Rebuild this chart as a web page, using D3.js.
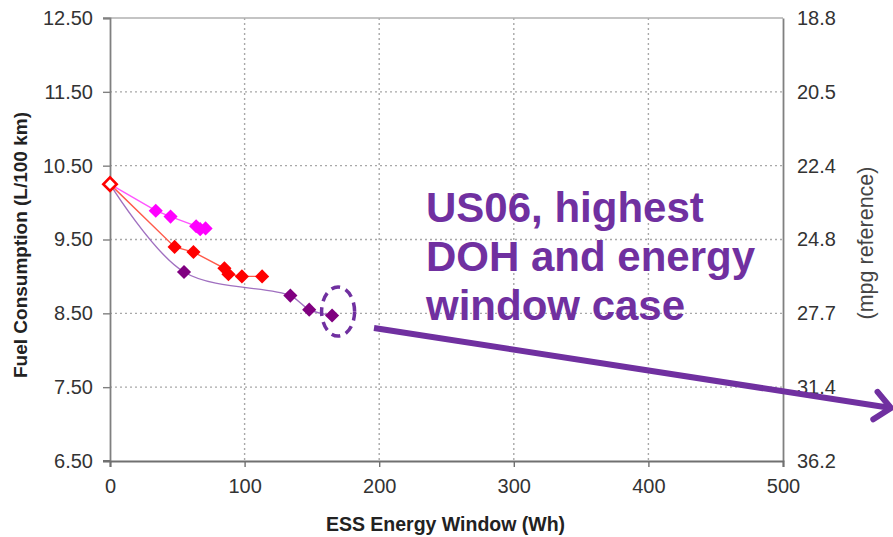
<!DOCTYPE html>
<html>
<head>
<meta charset="utf-8">
<script src="https://cdn.jsdelivr.net/npm/d3@7"></script>
<style>
  html, body { margin: 0; padding: 0; background: #fff; }
  svg { display: block; font-family: "Liberation Sans", Arial, sans-serif; }
</style>
</head>
<body>
<svg id="chart" width="893" height="537"></svg>
<script>
// Shared starting point (no ESS energy window)
const baseline = [{ wh: 0, fuel: 10.25 }];

// Series: ESS energy window (Wh) vs fuel consumption (L/100 km)
const magentaWh   = [34, 45, 64, 67, 71];
const magentaFuel = [9.89, 9.81, 9.68, 9.64, 9.65];

const redWh   = [48, 62, 85, 88, 98, 113];
const redFuel = [9.40, 9.33, 9.11, 9.03, 9.00, 9.00];

const purpleWh   = [55, 134, 148, 165];
const purpleFuel = [9.06, 8.74, 8.55, 8.47];

// Axis ticks
const xTicks = [0, 100, 200, 300, 400, 500];
const yTicks = [12.5, 11.5, 10.5, 9.5, 8.5, 7.5, 6.5];
const mpgLabels = ["18.8", "20.5", "22.4", "24.8", "27.7", "31.4", "36.2"];

const annotationLines = ["US06, highest", "DOH and energy", "window case"];

const toPts = (xs, ys) => xs.map((v, i) => ({ wh: v, fuel: ys[i] }));
const magenta = toPts(magentaWh, magentaFuel);
const red = toPts(redWh, redFuel);
const purple = toPts(purpleWh, purpleFuel);

const svg = d3.select("#chart");
const plotL = 110, plotR = 783, plotT = 18, plotB = 461;

const x = d3.scaleLinear().domain([0, 500]).range([plotL, plotR]);
const y = d3.scaleLinear().domain([6.5, 12.5]).range([plotB, plotT]);

// Gridlines (dotted)
const grid = svg.append("g");
grid.selectAll("line.h").data(yTicks.filter(d => d !== 12.5 && d !== 6.5)).join("line")
  .attr("x1", plotL).attr("x2", plotR)
  .attr("y1", d => y(d)).attr("y2", d => y(d))
  .attr("stroke", "#a8a8a8").attr("stroke-width", 1.4).attr("stroke-dasharray", "2,3");
grid.selectAll("line.v").data(xTicks.filter(d => d !== 0 && d !== 500)).join("line")
  .attr("x1", d => x(d)).attr("x2", d => x(d))
  .attr("y1", plotT).attr("y2", plotB)
  .attr("stroke", "#a8a8a8").attr("stroke-width", 1.4).attr("stroke-dasharray", "2,3");

// Top frame
svg.append("line").attr("x1", plotL - 7).attr("x2", plotR).attr("y1", plotT).attr("y2", plotT)
  .attr("stroke", "#b0b0b0").attr("stroke-width", 1.6);

// Left axis
const yAxis = svg.append("g").attr("transform", `translate(${plotL},0)`)
  .call(d3.axisLeft(y).tickValues(yTicks).tickSize(7).tickPadding(10).tickFormat(d3.format(".2f")));
yAxis.select(".domain").attr("stroke", "#808080").attr("stroke-width", 1.8);
yAxis.selectAll(".tick line").attr("stroke", "#808080").attr("stroke-width", 1.4);
yAxis.selectAll("text").attr("font-size", 20).attr("fill", "#333")
  .attr("font-family", "Liberation Sans, Arial, sans-serif");

// Right axis (mpg reference)
const yAxisR = svg.append("g").attr("transform", `translate(${plotR},0)`)
  .call(d3.axisRight(y).tickValues(yTicks).tickSize(0).tickPadding(14)
    .tickFormat((d, i) => mpgLabels[i]));
yAxisR.select(".domain").attr("stroke", "#808080").attr("stroke-width", 1.8);
yAxisR.selectAll("text").attr("font-size", 20).attr("fill", "#333")
  .attr("font-family", "Liberation Sans, Arial, sans-serif");

// Bottom axis
const xAxis = svg.append("g").attr("transform", `translate(0,${plotB})`)
  .call(d3.axisBottom(x).tickValues(xTicks).tickSize(6).tickPadding(12));
xAxis.select(".domain").attr("stroke", "#707070").attr("stroke-width", 2);
xAxis.selectAll(".tick line").attr("stroke", "#707070").attr("stroke-width", 1.4);
xAxis.selectAll("text").attr("font-size", 20).attr("fill", "#333")
  .attr("font-family", "Liberation Sans, Arial, sans-serif");
svg.append("line").attr("x1", plotL - 7).attr("x2", plotL).attr("y1", plotB).attr("y2", plotB)
  .attr("stroke", "#707070").attr("stroke-width", 2);

// Axis titles
svg.append("text")
  .attr("x", (plotL + plotR) / 2 - 1).attr("y", 531)
  .attr("text-anchor", "middle").attr("font-size", 19.5).attr("font-weight", "bold")
  .attr("fill", "#222").text("ESS Energy Window (Wh)");
svg.append("text")
  .attr("transform", "translate(27,245) rotate(-90)")
  .attr("text-anchor", "middle").attr("font-size", 19).attr("font-weight", "bold")
  .attr("fill", "#222").text("Fuel Consumption (L/100 km)");
svg.append("text")
  .attr("transform", "translate(873,243) rotate(-90)")
  .attr("text-anchor", "middle").attr("font-size", 21.5)
  .attr("fill", "#444").text("(mpg reference)");

// Series lines
const straight = d3.line().x(d => x(d.wh)).y(d => y(d.fuel));
const smooth = d3.line().x(d => x(d.wh)).y(d => y(d.fuel)).curve(d3.curveCatmullRom.alpha(0.5));

svg.append("path").datum(baseline.concat(magenta)).attr("d", straight)
  .attr("fill", "none").attr("stroke", "#ff55ff").attr("stroke-width", 1.4);
svg.append("path").datum(baseline.concat(red)).attr("d", straight)
  .attr("fill", "none").attr("stroke", "#ff5a4a").attr("stroke-width", 1.4);
svg.append("path").datum(baseline.concat(purple)).attr("d", smooth)
  .attr("fill", "none").attr("stroke", "#a070c0").attr("stroke-width", 1.4);

// Diamond markers
const diamond = d3.symbol().type(d3.symbolSquare).size(100);
function markers(data, color) {
  svg.append("g").selectAll("path").data(data).join("path")
    .attr("d", diamond)
    .attr("transform", d => `translate(${x(d.wh)},${y(d.fuel)}) rotate(45)`)
    .attr("fill", color);
}
markers(magenta, "#ff00ff");
markers(red, "#ff0000");
markers(purple, "#800080");

// Hollow starting marker
svg.append("g").selectAll("path").data(baseline).join("path")
  .attr("d", d3.symbol().type(d3.symbolSquare).size(90))
  .attr("transform", d => `translate(${x(d.wh)},${y(d.fuel)}) rotate(45)`)
  .attr("fill", "#fff").attr("stroke", "#ff0000").attr("stroke-width", 2.6);

// Callout: dashed ellipse around the last purple point
const last = purple[purple.length - 1];
svg.append("ellipse")
  .attr("cx", x(last.wh) + 6).attr("cy", y(last.fuel) - 4)
  .attr("rx", 16.5).attr("ry", 24.5)
  .attr("fill", "none").attr("stroke", "#7030a0").attr("stroke-width", 3.5)
  .attr("stroke-dasharray", "9,6");

// Callout text
const note = svg.append("text").attr("font-size", 42).attr("font-weight", "bold")
  .attr("fill", "#7030a0");
annotationLines.forEach((t, i) => {
  note.append("tspan").attr("x", 426).attr("y", 222 + i * 49).text(t);
});

// Callout arrow
const a0 = [374, 328], a1 = [891, 408];
svg.append("line").attr("x1", a0[0]).attr("y1", a0[1]).attr("x2", a1[0]).attr("y2", a1[1])
  .attr("stroke", "#7030a0").attr("stroke-width", 6);
const ang = Math.atan2(a1[1] - a0[1], a1[0] - a0[0]);
const headLen = 21, spread = Math.PI * 0.23;
const head = [
  [a1[0] - headLen * Math.cos(ang - spread), a1[1] - headLen * Math.sin(ang - spread)],
  a1,
  [a1[0] - headLen * Math.cos(ang + spread), a1[1] - headLen * Math.sin(ang + spread)]
];
svg.append("path").attr("d", d3.line()(head))
  .attr("fill", "none").attr("stroke", "#7030a0").attr("stroke-width", 6)
  .attr("stroke-linecap", "round").attr("stroke-linejoin", "round");
</script>
</body>
</html>
